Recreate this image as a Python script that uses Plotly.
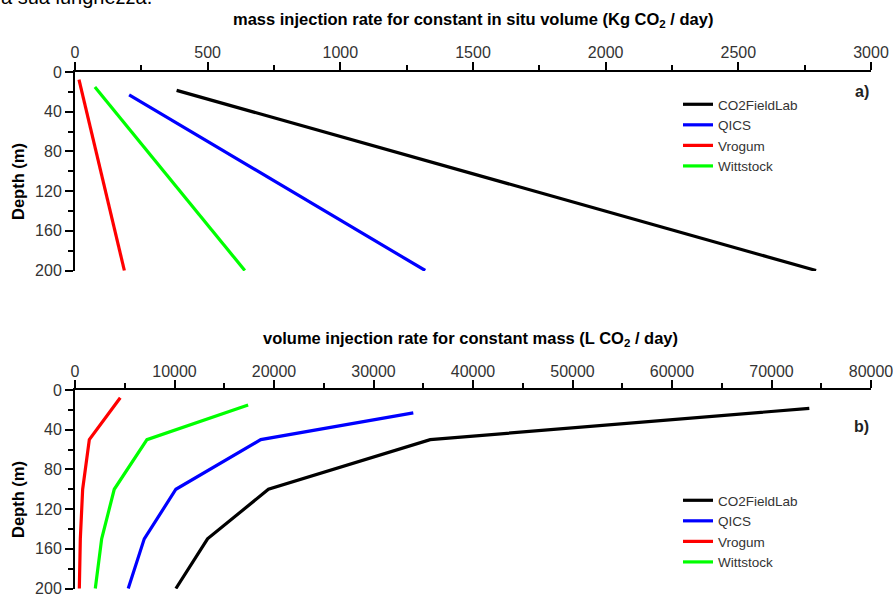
import plotly.graph_objects as go

sites = ["CO2FieldLab", "QICS", "Vrogum", "Wittstock"]
colors = ["#000000", "#0000ff", "#ff0000", "#00ff00"]

# panel a) mass injection rate for constant in situ volume (Kg CO2/day)
depth_a = {
    "CO2FieldLab": [18.5, 200],
    "QICS": [23, 200],
    "Vrogum": [7.8, 200],
    "Wittstock": [15, 200],
}
mass_a = {
    "CO2FieldLab": [383, 2793],
    "QICS": [204, 1320],
    "Vrogum": [15, 186],
    "Wittstock": [75, 640],
}

# panel b) volume injection rate for constant mass (L CO2/day)
depth_b = {
    "CO2FieldLab": [18.5, 50, 100, 150, 200],
    "QICS": [23, 50, 100, 150, 200],
    "Vrogum": [7.8, 50, 100, 150, 200],
    "Wittstock": [15, 50, 100, 150, 200],
}
vol_b = {
    "CO2FieldLab": [73800, 35700, 19440, 13320, 10140],
    "QICS": [34000, 18670, 10140, 6960, 5350],
    "Vrogum": [4550, 1440, 770, 535, 435],
    "Wittstock": [17400, 7230, 3945, 2680, 2040],
}

ticks_a = [0, 500, 1000, 1500, 2000, 2500, 3000]
ticks_b = [0, 10000, 20000, 30000, 40000, 50000, 60000, 70000, 80000]
ticks_depth = [0, 40, 80, 120, 160, 200]

FONT = "Liberation Sans, Arial, sans-serif"
W, H = 893, 595
L, R, T, B = 75, 22, 72, 6
ph = H - T - B
pw = W - L - R


def py(p):
    return (H - B - p) / ph


def px(p):
    return (p - L) / pw


fig = go.Figure()
for s, c in zip(sites, colors):
    fig.add_trace(go.Scatter(x=mass_a[s], y=depth_a[s], mode="lines", name=s,
                             line=dict(color=c, width=3.2), xaxis="x", yaxis="y",
                             legend="legend"))
for s, c in zip(sites, colors):
    fig.add_trace(go.Scatter(x=vol_b[s], y=depth_b[s], mode="lines", name=s,
                             line=dict(color=c, width=3.2), xaxis="x2", yaxis="y2",
                             legend="legend2"))

axis_common = dict(
    showline=True, linecolor="black", linewidth=2, mirror=False,
    ticks="outside", ticklen=8, tickwidth=2, tickcolor="black",
    showgrid=False, zeroline=False, automargin=False,
    ticklabeloverflow="allow",
    tickfont=dict(family=FONT, size=16, color="#333333"),
)
minor_c = dict(ticks="outside", ticklen=5, tickwidth=2, tickcolor="black", tick0=0)

title_font = dict(family=FONT, size=16.5, color="black")
leg_font = dict(family=FONT, size=13.5, color="#333333")

fig.update_layout(
    width=W, height=H,
    margin=dict(l=L, r=R, t=T, b=B),
    paper_bgcolor="white", plot_bgcolor="white",
    font=dict(family=FONT),
    xaxis=dict(axis_common, side="top", anchor="y", domain=[0, 1], range=[0, 3000],
               tickvals=ticks_a, ticklabelstandoff=-2, minor=dict(minor_c, dtick=250)),
    yaxis=dict(axis_common, anchor="x", domain=[py(271), 1], range=[200.5, 0],
               tickvals=ticks_depth, minor=dict(minor_c, dtick=20)),
    xaxis2=dict(axis_common, side="top", anchor="y2", domain=[0, 1], range=[0, 80000],
                tickvals=ticks_b, tickformat="d", ticklabelstandoff=-3,
                minor=dict(minor_c, dtick=5000)),
    yaxis2=dict(axis_common, anchor="x2", domain=[0, py(390)], range=[200.5, 0],
                tickvals=ticks_depth, minor=dict(minor_c, dtick=20)),
    legend=dict(x=px(678), y=py(89), xanchor="left", yanchor="top",
                bgcolor="rgba(0,0,0,0)", font=leg_font, tracegroupgap=0, itemwidth=30),
    legend2=dict(x=px(678), y=py(485), xanchor="left", yanchor="top",
                 bgcolor="rgba(0,0,0,0)", font=leg_font, tracegroupgap=0, itemwidth=30),
    annotations=[
        dict(text="<b>mass injection rate for constant in situ volume (Kg CO<sub>2</sub> / day)</b>",
             x=px(473), y=py(20), xref="paper", yref="paper", xanchor="center", yanchor="middle",
             showarrow=False, font=title_font),
        dict(text="<b>volume injection rate for constant mass (L CO<sub>2</sub> / day)</b>",
             x=px(470), y=py(339), xref="paper", yref="paper", xanchor="center", yanchor="middle",
             showarrow=False, font=title_font),
        dict(text="<b>Depth (m)</b>", textangle=-90, x=px(18), y=py(181), xref="paper", yref="paper",
             xanchor="center", yanchor="middle", showarrow=False, font=title_font),
        dict(text="<b>Depth (m)</b>", textangle=-90, x=px(18), y=py(499), xref="paper", yref="paper",
             xanchor="center", yanchor="middle", showarrow=False, font=title_font),
        dict(text="<b>a)</b>", x=1, y=py(92), xref="paper", yref="paper", xanchor="right",
             yanchor="middle", showarrow=False, font=dict(family=FONT, size=16, color="#222222")),
        dict(text="<b>b)</b>", x=1, y=py(426), xref="paper", yref="paper", xanchor="right",
             yanchor="middle", showarrow=False, font=dict(family=FONT, size=16, color="#222222")),
        dict(text="a sua lunghezza.", x=px(-1), y=py(9.5), xref="paper", yref="paper",
             xanchor="left", yanchor="bottom", showarrow=False,
             font=dict(family=FONT, size=20, color="black")),
    ],
)

fig.write_html(
    "out.html",
    config={"displayModeBar": False},
    post_script="document.body.style.margin='0';document.body.style.overflow='hidden';",
)
